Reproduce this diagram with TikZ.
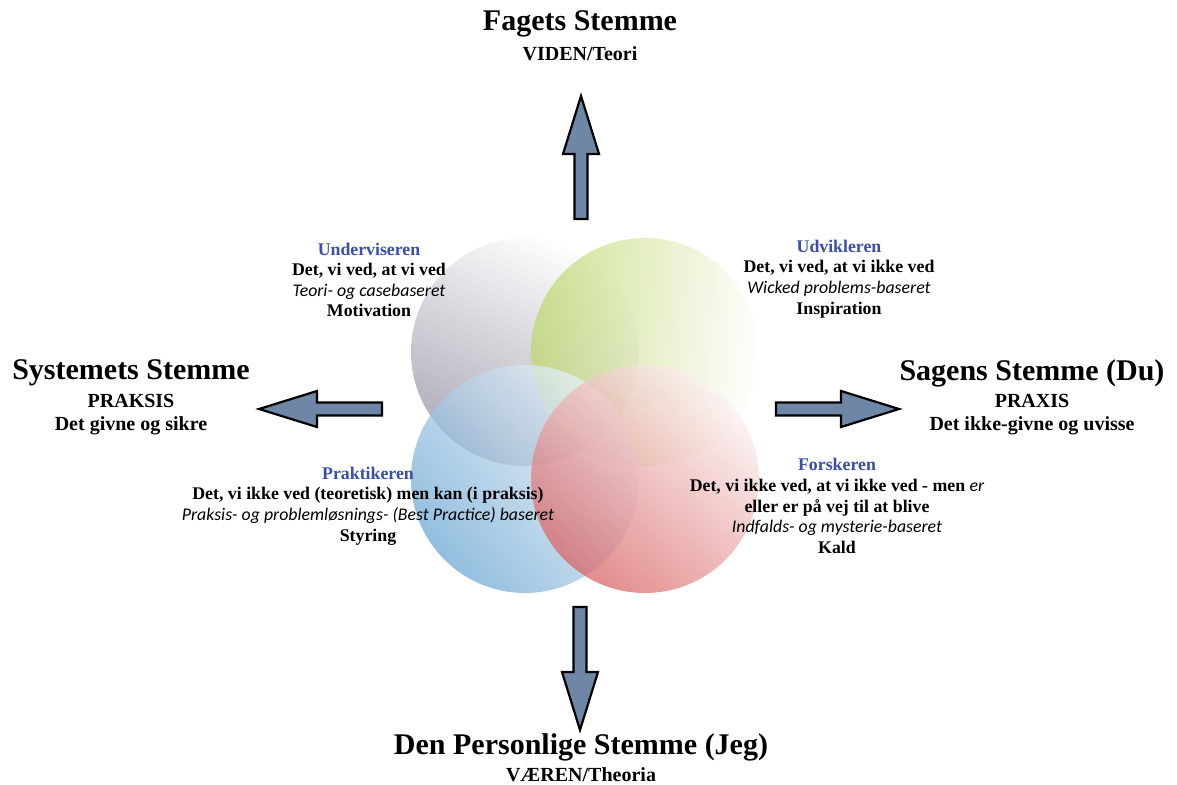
\documentclass[tikz,border=0pt]{standalone}
\usepackage{fontspec}
\setmainfont{Liberation Serif}
\newfontfamily\itfam{Carlito}
\definecolor{rolecol}{RGB}{58,78,172}
\definecolor{arrowfill}{RGB}{110,135,166}
\definecolor{grayC}{RGB}{148,142,160}
\definecolor{greenC}{RGB}{190,216,110}
\definecolor{blueC}{RGB}{110,168,212}
\definecolor{redC}{RGB}{218,100,100}
\tikzset{
  voice/.style={font=\fontsize{30}{32}\selectfont\bfseries, inner sep=0pt},
  voicesub/.style={font=\fontsize{20}{22}\selectfont\bfseries, inner sep=0pt},
  role/.style={font=\fontsize{17.8}{20.6}\selectfont\bfseries, align=center, inner sep=0pt},
  ring/.style={fill opacity=0.74},
  blockarrow/.pic={
    \draw[fill=arrowfill, draw=black, line width=2.2pt, line join=miter]
      (0,-6.5) -- (65,-6.5) -- (65,-18) -- (123,0) -- (65,18) -- (65,6.5) -- (0,6.5) -- cycle;
  }
}
\newcommand{\rolename}[1]{\textcolor{rolecol}{#1}}
\newcommand{\rolenote}[1]{{\itfam\itshape\mdseries #1}}
\begin{document}
\begin{tikzpicture}[x=1pt, y=-1pt]
  \useasboundingbox (0,0) rectangle (1177,784);
  \fill[white] (0,0) rectangle (1177,784);

  % four overlapping circles
  \coordinate (cTL) at (525,352);
  \coordinate (cTR) at (645,352);
  \coordinate (cBL) at (525,479);
  \coordinate (cBR) at (645,479);
  \shade[ring, top color=white, bottom color=grayC, shading angle=-25] (cTL) circle (114pt);
  \shade[ring, top color=white, bottom color=greenC, shading angle=-95] (cTR) circle (114pt);
  \shade[ring, top color=blueC!12, bottom color=blueC, shading angle=-50] (cBL) circle (114pt);
  \shade[ring, top color=redC!8, bottom color=redC, shading angle=-40] (cBR) circle (114pt);

  % the four voices
  \node[voice]    (fag)    at (580,24)  {Fagets Stemme};
  \node[voicesub] (fagsub) at (580,54)  {VIDEN/Teori};
  \node[voice]    (sys)    at (131,373) {Systemets Stemme};
  \node[voicesub] (sys1)   at (131,401) {PRAKSIS};
  \node[voicesub] (sys2)   at (131,426) {Det givne og sikre};
  \node[voice]    (sag)    at (1032,373) {Sagens Stemme (Du)};
  \node[voicesub] (sag1)   at (1032,401) {PRAXIS};
  \node[voicesub] (sag2)   at (1032,426) {Det ikke-givne og uvisse};
  \node[voice]    (jeg)    at (581,747) {Den Personlige Stemme (Jeg)};
  \node[voicesub] (jegsub) at (581,775) {VÆREN/Theoria};

  % arrows pointing out from the centre
  \coordinate (aUp)    at (581,219);
  \coordinate (aDown)  at (580,607);
  \coordinate (aLeft)  at (382,409);
  \coordinate (aRight) at (776,409);
  \pic[rotate=90]  at (aUp)    {blockarrow};
  \pic[rotate=-90] at (aDown)  {blockarrow};
  \pic[rotate=180] at (aLeft)  {blockarrow};
  \pic             at (aRight) {blockarrow};

  % the four roles
  \node[role] (und) at (369,280) {\rolename{Underviseren}\\Det, vi ved, at vi ved\\\rolenote{Teori- og casebaseret}\\Motivation};
  \node[role] (udv) at (839,279) {\rolename{Udvikleren}\\Det, vi ved, at vi ikke ved\\\rolenote{Wicked problems-baseret}\\Inspiration};
  \node[role] (pra) at (368,506) {\rolename{Praktikeren}\\Det, vi ikke ved (teoretisk) men kan (i praksis)\\\rolenote{Praksis- og problemløsnings- (Best Practice) baseret}\\Styring};
  \node[role] (for) at (837,506) {\rolename{Forskeren}\\Det, vi ikke ved, at vi ikke ved - men \rolenote{er}\\eller er på vej til at blive\\\rolenote{Indfalds- og mysterie-baseret}\\Kald};
\end{tikzpicture}
\end{document}
